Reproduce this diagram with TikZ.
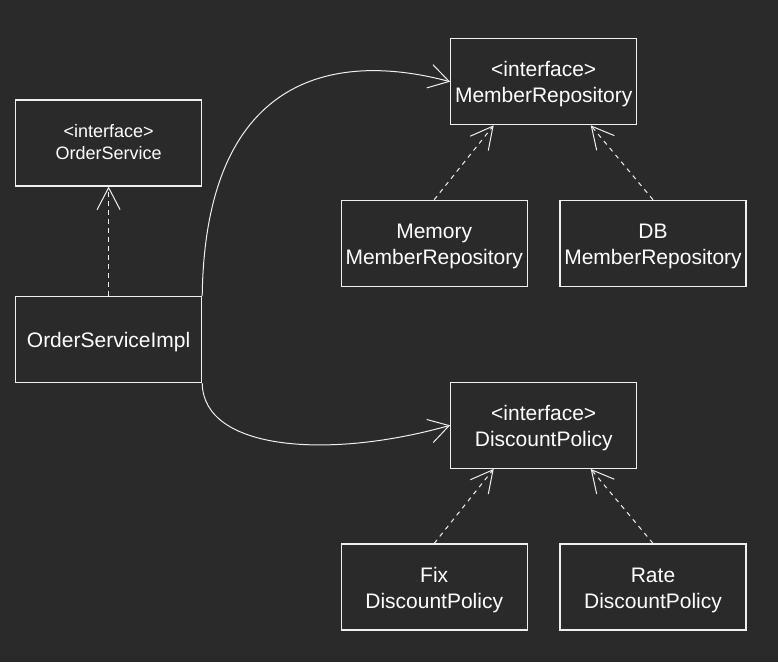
\documentclass[tikz,border=0pt]{standalone}
\usepackage{fontspec}
\setmainfont{Liberation Sans}
\usetikzlibrary{arrows.meta}
\definecolor{bg}{HTML}{2A2A2A}
\definecolor{fg}{HTML}{F0F0F0}
\newcommand\boxtext[2]{\raisebox{-#1}[0pt][0pt]{\begin{tabular}[b]{@{}c@{}}#2\end{tabular}}}
\begin{document}
\begin{tikzpicture}[x=1pt,y=-1pt,
  box/.style={draw=fg, line width=1.2pt, minimum width=186pt, minimum height=86pt,
    inner sep=0pt, text=white, font=\fontsize{21}{26}\selectfont},
  smallbox/.style={box, font=\fontsize{18}{22}\selectfont},
  realize/.style={draw=fg, line width=1pt, dash pattern=on 4.5pt off 4.5pt,
    -{Straight Barb[length=22pt,width=23pt]}},
  assoc/.style={draw=fg, line width=1pt, -{Straight Barb[length=20pt,width=24pt]}}]
\fill[bg] (0,0) rectangle (778,662);
\useasboundingbox (0,0) rectangle (778,662);

\node[smallbox] (os) at (108.6,143) {\boxtext{16.3pt}{<interface>\\OrderService}};
\node[box] (impl) at (108.6,339.5) {\boxtext{8.2pt}{OrderServiceImpl}};
\node[box] (mr) at (543.7,81.7) {\boxtext{21pt}{<interface>\\MemberRepository}};
\node[box] (mem) at (434.2,243.3) {\boxtext{21pt}{Memory\\MemberRepository}};
\node[box] (db) at (653,243.3) {\boxtext{21pt}{DB\\MemberRepository}};
\node[box] (dp) at (543.7,425.3) {\boxtext{21pt}{<interface>\\DiscountPolicy}};
\node[box] (fix) at (434.2,587) {\boxtext{21pt}{Fix\\DiscountPolicy}};
\node[box] (rate) at (653,587) {\boxtext{21pt}{Rate\\DiscountPolicy}};

\draw[realize] (impl.north) -- (os.south);
\draw[realize] (mem.north) -- ([xshift=-50pt]mr.south);
\draw[realize] (db.north) -- ([xshift=47pt]mr.south);
\draw[realize] (fix.north) -- ([xshift=-50pt]dp.south);
\draw[realize] (rate.north) -- ([xshift=47pt]dp.south);

\draw[assoc] (impl.north east) .. controls +(3,-217) and +(-120,-32) .. (mr.west);
\draw[assoc] (impl.south east) .. controls +(1,68) and +(-120,34) .. (dp.west);
\end{tikzpicture}
\end{document}
